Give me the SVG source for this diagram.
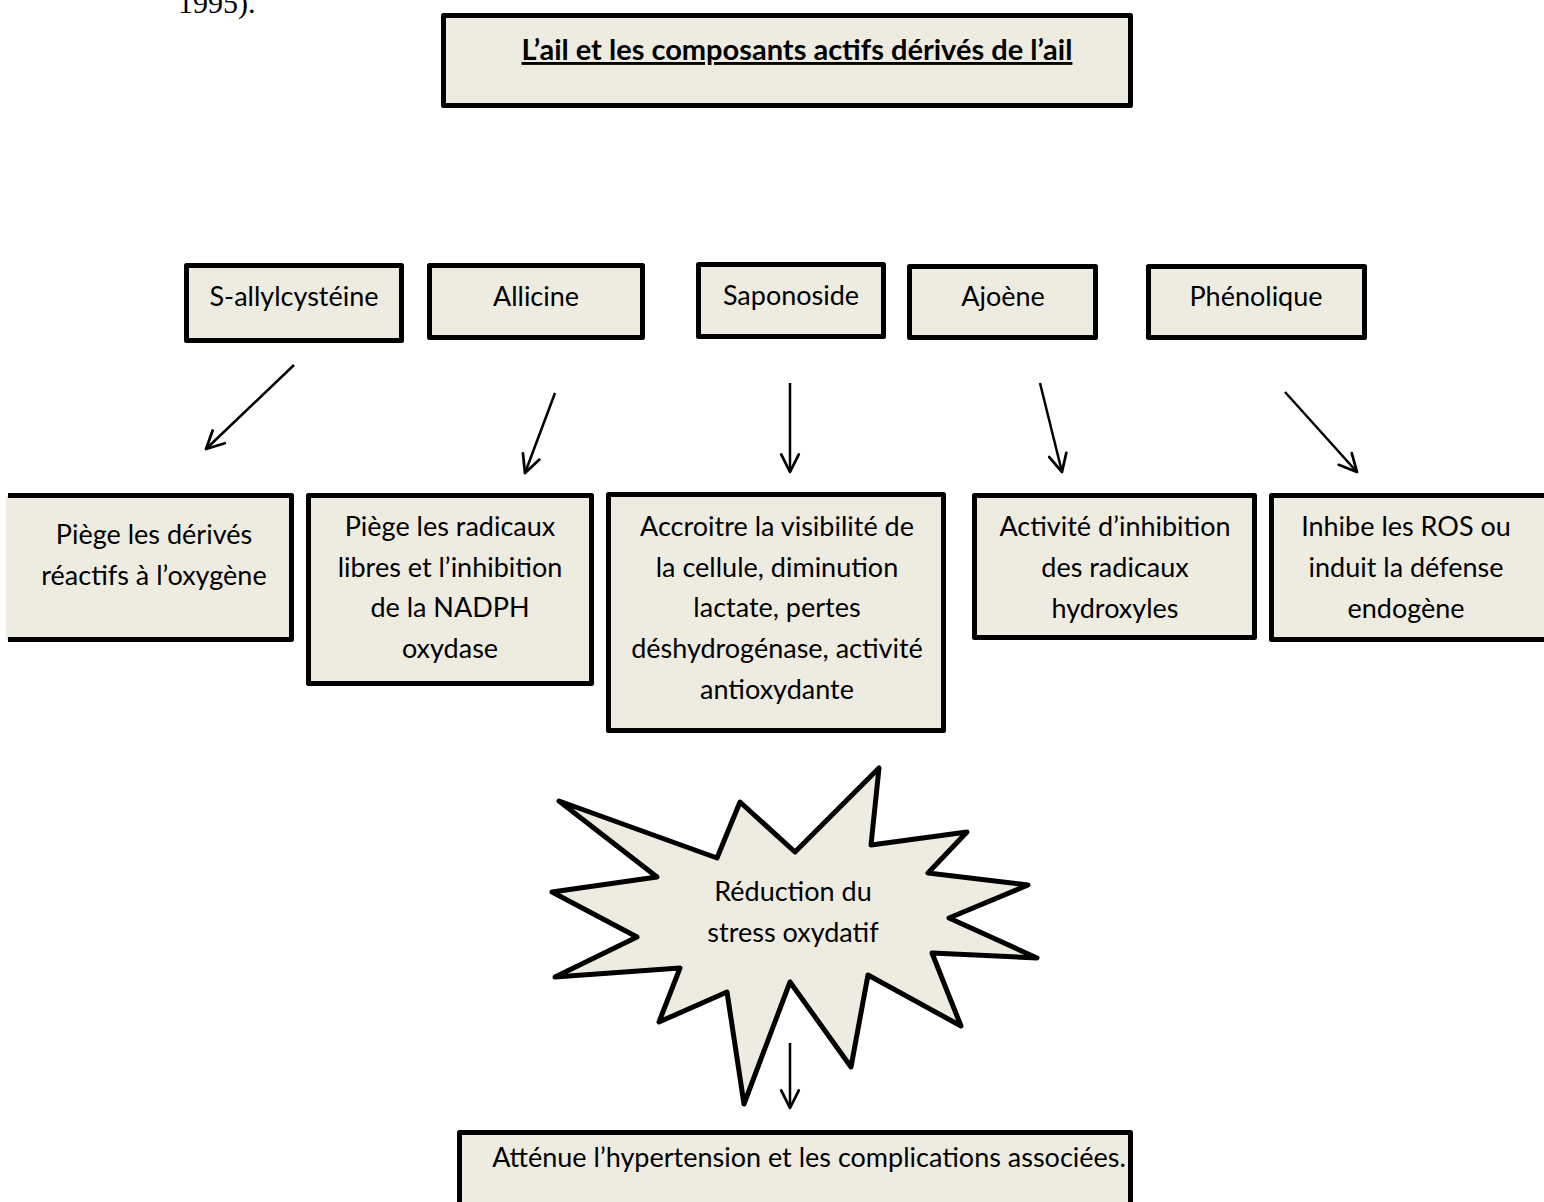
<svg xmlns="http://www.w3.org/2000/svg" width="1544" height="1202" viewBox="0 0 1544 1202">
<style>
.box{fill:#EEECE1;stroke:#000;stroke-width:5;stroke-linejoin:round}
.fillonly{fill:#EEECE1;stroke:none}
.edge{fill:none;stroke:#000;stroke-width:5;stroke-linejoin:round}
.t{font-family:Lato,"Open Sans","Liberation Sans",sans-serif;font-size:27px;fill:#000;text-anchor:middle}
.title{font-weight:bold;font-size:29px;text-decoration:underline}
.arr{stroke:#000;stroke-width:2.5;fill:none;marker-end:url(#ah)}
</style>
<defs>
<marker id="ah" viewBox="0 0 20 20" refX="18" refY="10" markerWidth="22" markerHeight="22" markerUnits="userSpaceOnUse" orient="auto">
<path d="M2,2 L18,10 L2,18" fill="none" stroke="#000" stroke-width="2.5" stroke-linecap="round" stroke-linejoin="round"/>
</marker>
</defs>
<rect width="1544" height="1202" fill="#fff"/>
<text x="178" y="13" font-family="'Liberation Serif',serif" font-size="30">1995).</text>

<g id="title">
<rect class="box" x="443.5" y="15.5" width="687" height="90"/>
<text class="t title" x="797" y="60">L’ail et les composants actifs dérivés de l’ail</text>
</g>

<g id="sallyl">
<rect class="box" x="186.5" y="265.5" width="215" height="75"/>
<text class="t" x="294" y="306">S-allylcystéine</text>
</g>
<g id="allicine">
<rect class="box" x="429.5" y="265.5" width="213" height="72"/>
<text class="t" x="536" y="306">Allicine</text>
</g>
<g id="saponoside">
<rect class="box" x="698.5" y="264.5" width="185" height="72"/>
<text class="t" x="791" y="305">Saponoside</text>
</g>
<g id="ajoene">
<rect class="box" x="909.5" y="266.5" width="186" height="71"/>
<text class="t" x="1003" y="306">Ajoène</text>
</g>
<g id="phenolique">
<rect class="box" x="1148.5" y="266.5" width="216" height="71"/>
<text class="t" x="1256" y="306">Phénolique</text>
</g>

<g id="effet1">
<path class="fillonly" d="M6,495.5 H291.5 V639.5 H6 Z"/>
<path class="edge" d="M8,495.5 H291.5 V639.5 H8"/>
<text class="t"><tspan x="154" y="544">Piège les dérivés</tspan><tspan x="154" y="585">réactifs à l’oxygène</tspan></text>
</g>
<g id="effet2">
<rect class="box" x="308.5" y="495.5" width="283" height="188"/>
<text class="t"><tspan x="450" y="536">Piège les radicaux</tspan><tspan x="450" y="577">libres et l’inhibition</tspan><tspan x="450" y="617">de la NADPH</tspan><tspan x="450" y="658">oxydase</tspan></text>
</g>
<g id="effet3">
<rect class="box" x="608.5" y="494.5" width="335" height="236"/>
<text class="t"><tspan x="777" y="536">Accroitre la visibilité de</tspan><tspan x="777" y="577">la cellule, diminution</tspan><tspan x="777" y="617">lactate, pertes</tspan><tspan x="777" y="658">déshydrogénase, activité</tspan><tspan x="777" y="699">antioxydante</tspan></text>
</g>
<g id="effet4">
<rect class="box" x="974.5" y="495.5" width="280" height="142"/>
<text class="t"><tspan x="1115" y="536">Activité d’inhibition</tspan><tspan x="1115" y="577">des radicaux</tspan><tspan x="1115" y="618">hydroxyles</tspan></text>
</g>
<g id="effet5">
<path class="fillonly" d="M1546,495.5 H1271.5 V639.5 H1546 Z"/>
<path class="edge" d="M1544,495.5 H1271.5 V639.5 H1544"/>
<text class="t"><tspan x="1406" y="536">Inhibe les ROS ou</tspan><tspan x="1406" y="577">induit la défense</tspan><tspan x="1406" y="618">endogène</tspan></text>
</g>

<g id="stress">
<polygon class="box" points="559,801 717,858 740,802 795,852 879,768 871,845 967,832 928,873 1028,885 949,918 1037,958 932,953 961,1026 868,975 851,1067 790,982 744,1104 727,992 659,1022 680,968 555,977 637,937 552,892 657,877"/>
<text class="t"><tspan x="793" y="901">Réduction du</tspan><tspan x="793" y="942">stress oxydatif</tspan></text>
</g>

<g id="hypertension">
<rect class="box" x="459.5" y="1132.5" width="671" height="80"/>
<text class="t" x="809" y="1167">Atténue l’hypertension et les complications associées.</text>
</g>

<g id="connectors">
<line class="arr" x1="294" y1="365" x2="206" y2="449"/>
<line class="arr" x1="555" y1="393" x2="525" y2="473"/>
<line class="arr" x1="790" y1="383" x2="790" y2="472"/>
<line class="arr" x1="1040" y1="383" x2="1062" y2="472"/>
<line class="arr" x1="1285" y1="392" x2="1357" y2="472"/>
<line class="arr" x1="790" y1="1043" x2="790" y2="1108"/>
</g>
</svg>
